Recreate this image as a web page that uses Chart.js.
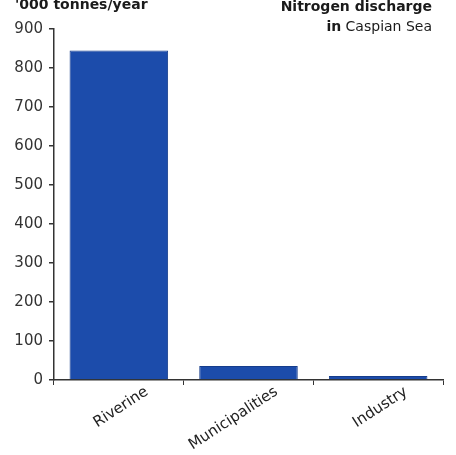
<!DOCTYPE html>
<html>
<head>
<meta charset="utf-8">
<script src="https://cdn.jsdelivr.net/npm/chart.js@4/dist/chart.umd.min.js"></script>
<style>
  html, body { margin: 0; padding: 0; background: #fff; }
  #wrap { position: relative; width: 456px; height: 455px; font-family: "DejaVu Sans", sans-serif; color: #1a1a1a; }
  #chart { position: absolute; left: 0; top: 0; }
  .unit { position: absolute; left: 15px; top: -4px; font-size: 14px; font-weight: bold; }
  .title { position: absolute; right: 24px; top: -4px; font-size: 14px; text-align: right; line-height: 20px; }
  .title b { font-weight: bold; }
</style>
</head>
<body>
<div id="wrap">
  <canvas id="chart" width="456" height="455"></canvas>
  <div class="unit">'000 tonnes/year</div>
  <div class="title"><b>Nitrogen discharge</b><br><b>in</b> Caspian Sea</div>
</div>
<script>
// --- 資料 ---
const categories = ['Riverine', 'Municipalities', 'Industry'];
const nitrogenValues = [845, 36, 10];
const yTicks = [0, 100, 200, 300, 400, 500, 600, 700, 800, 900];

const axisColor = '#333';

new Chart(document.getElementById('chart'), {
    type: 'bar',
    data: {
        labels: categories,
        datasets: [{
            data: nitrogenValues,
            backgroundColor: '#1c4cab',
            borderColor: '#163d8c',
            borderWidth: 1,
            barPercentage: 0.76,
            categoryPercentage: 1
        }]
    },
    options: {
        responsive: false,
        animation: false,
        layout: { padding: { top: 29, right: 13, left: 0, bottom: 0 } },
        plugins: {
            legend: { display: false },
            tooltip: { enabled: false }
        },
        scales: {
            x: {
                afterFit: s => { s.height = 75; },
                grid: { display: true, drawOnChartArea: false, tickLength: 5, color: axisColor, lineWidth: 1 },
                border: { display: true, color: axisColor, width: 1.5 },
                ticks: {
                    color: '#222',
                    font: { family: 'DejaVu Sans', size: 15 },
                    minRotation: 33,
                    maxRotation: 33,
                    labelOffset: 28,
                    padding: -2
                }
            },
            y: {
                min: 0,
                max: 900,
                afterFit: s => { s.width = 54; },
                afterBuildTicks: s => { s.ticks = yTicks.map(v => ({ value: v })); },
                grid: { display: true, drawOnChartArea: false, tickLength: 5, color: axisColor, lineWidth: 1.5 },
                border: { display: true, color: axisColor, width: 1.5 },
                ticks: {
                    color: '#333',
                    font: { family: 'DejaVu Sans', size: 15 },
                    padding: 6
                }
            }
        }
    }
});
</script>
</body>
</html>
